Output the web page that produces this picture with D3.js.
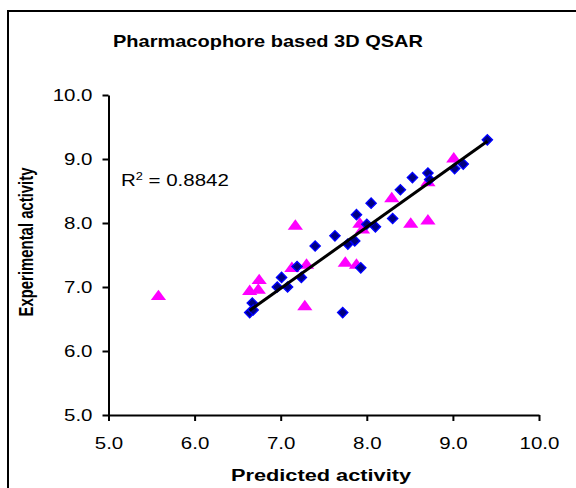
<!DOCTYPE html>
<html><head><meta charset="utf-8">
<script src="https://cdn.jsdelivr.net/npm/d3@7"></script>
<style>html,body{margin:0;padding:0;background:#fff;}svg{display:block;}</style>
</head><body>
<svg id="c" width="576" height="488"></svg>
<script>
// Training set (blue diamonds): predicted, experimental
const trainPred = [9.40, 9.12, 9.02, 8.71, 8.73, 8.53, 8.39, 8.30, 8.05, 7.88, 8.10, 8.00, 7.86, 7.78, 7.63, 7.40, 7.93, 7.72, 7.24, 7.19, 7.01, 6.96, 7.08, 6.67, 6.64, 6.68];
const trainExp  = [9.30, 8.92, 8.85, 8.78, 8.68, 8.71, 8.52, 8.07, 8.31, 8.13, 7.94, 7.98, 7.72, 7.67, 7.80, 7.64, 7.30, 6.60, 7.15, 7.32, 7.15, 7.00, 7.00, 6.75, 6.60, 6.64];
// Test set (magenta triangles)
const testPred = [9.01, 8.71, 8.29, 8.51, 8.71, 7.92, 7.95, 7.75, 7.88, 7.17, 7.13, 7.30, 7.28, 6.75, 6.64, 6.74, 5.58];
const testExp  = [9.00, 8.63, 8.38, 7.98, 8.03, 7.98, 7.89, 7.37, 7.34, 7.95, 7.29, 7.34, 6.69, 7.10, 6.93, 6.95, 6.85];
const xTicks = [5.0, 6.0, 7.0, 8.0, 9.0, 10.0];
const yTicks = [5.0, 6.0, 7.0, 8.0, 9.0, 10.0];
const titleText = "Pharmacophore based 3D QSAR";
const xTitle = "Predicted activity";
const yTitle = "Experimental activity";
const r2Value = "0.8842";

const svg = d3.select("#c");
const FONT = "'Liberation Sans', Arial, sans-serif";
const SX = 1.28;

// outer frame
svg.append("rect").attr("x", 8).attr("y", 11).attr("width", 620).attr("height", 600)
  .attr("fill", "none").attr("stroke", "#000").attr("stroke-width", 2);

const x = d3.scaleLinear().domain([5, 10]).range([108.5, 539]);
const y = d3.scaleLinear().domain([5, 10]).range([415, 95]);

// axes
const gx = svg.append("g").attr("transform", `translate(0,${y(5)})`)
  .call(d3.axisBottom(x).tickValues(xTicks).tickSize(6).tickSizeOuter(0).tickFormat(d3.format(".1f")));
const gy = svg.append("g").attr("transform", `translate(${x(5)},0)`)
  .call(d3.axisLeft(y).tickValues(yTicks).tickSize(6).tickSizeOuter(0).tickFormat(d3.format(".1f")));
[gx, gy].forEach(g => {
  g.select(".domain").attr("stroke", "#000").attr("stroke-width", 2);
  g.selectAll(".tick line").attr("stroke", "#000").attr("stroke-width", 2);
  g.selectAll(".tick text").attr("fill", "#000").style("font-family", FONT).style("font-size", "16px");
});
gx.selectAll(".tick text").attr("y", null).attr("dy", null)
  .attr("text-anchor", "middle").attr("transform", `translate(0,34) scale(${SX},1)`);
gy.selectAll(".tick text").attr("x", null).attr("dy", "0.32em")
  .attr("text-anchor", "end").attr("transform", `translate(-16,0) scale(${SX},1)`);

// title
svg.append("text").attr("x", 268).attr("y", 47).attr("text-anchor", "middle")
  .style("font-family", FONT).style("font-size", "17px").style("font-weight", "bold")
  .attr("textLength", 310).attr("lengthAdjust", "spacingAndGlyphs").text(titleText);
// x title
svg.append("text").attr("x", 321).attr("y", 481).attr("text-anchor", "middle")
  .style("font-family", FONT).style("font-size", "16px").style("font-weight", "bold")
  .attr("textLength", 180).attr("lengthAdjust", "spacingAndGlyphs").text(xTitle);
// y title (horizontally stretched like the rest of the figure)
svg.append("text").attr("transform", `translate(33,242) scale(${SX},1) rotate(-90)`).attr("text-anchor", "middle")
  .style("font-family", FONT).style("font-size", "16px").style("font-weight", "bold")
  .attr("textLength", 149).attr("lengthAdjust", "spacingAndGlyphs").text(yTitle);

// R^2 label
const r2 = svg.append("text").attr("transform", `translate(121,186) scale(${SX},1)`)
  .style("font-family", FONT).style("font-size", "16px").attr("fill", "#000");
r2.append("tspan").text("R");
r2.append("tspan").attr("dy", -6).style("font-size", "10px").text("2");
r2.append("tspan").attr("dy", 6).text(" = " + r2Value);

// test triangles
const tri = d3.symbol().type(d3.symbolTriangle).size(70);
svg.append("g").selectAll("path").data(testPred.map((p, i) => [p, testExp[i]])).join("path")
  .attr("d", tri).attr("transform", d => `translate(${x(d[0])},${y(d[1])}) scale(1.2,0.95)`)
  .attr("fill", "#FF00FF");

// training diamonds
svg.append("g").selectAll("rect").data(trainPred.map((p, i) => [p, trainExp[i]])).join("rect")
  .attr("x", -3.6).attr("y", -3.6).attr("width", 7.2).attr("height", 7.2)
  .attr("transform", d => `translate(${x(d[0])},${y(d[1])}) rotate(45)`)
  .attr("fill", "#000080").attr("stroke", "#0000FF").attr("stroke-width", 1.4);

// linear trendline of training set (least squares)
const n = trainPred.length;
const mx = d3.mean(trainPred), my = d3.mean(trainExp);
let sxy = 0, sxx = 0;
for (let i = 0; i < n; i++) { sxy += (trainPred[i] - mx) * (trainExp[i] - my); sxx += (trainPred[i] - mx) ** 2; }
const slope = sxy / sxx, icpt = my - slope * mx;
const x0 = d3.min(trainPred), x1 = d3.max(trainPred);
svg.append("line").attr("x1", x(x0)).attr("y1", y(slope * x0 + icpt))
  .attr("x2", x(x1)).attr("y2", y(slope * x1 + icpt))
  .attr("stroke", "#000").attr("stroke-width", 3);
</script>
</body></html>
